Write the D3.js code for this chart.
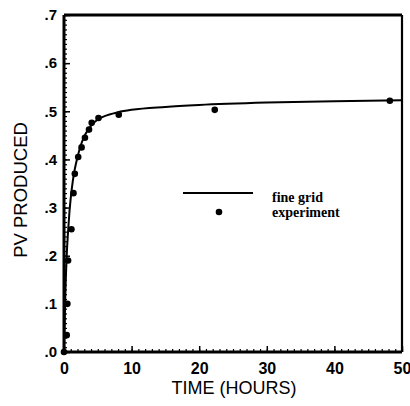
<!DOCTYPE html>
<html>
<head>
<meta charset="utf-8">
<script src="https://cdn.jsdelivr.net/npm/d3@7"></script>
<style>
  body { margin: 0; background: #fff; }
  svg { display: block; }
</style>
</head>
<body>
<svg id="chart"></svg>
<script>
// fine grid simulation curve
const curveTime = [0, 0.1, 0.2, 0.4, 0.6, 0.8, 1.0, 1.3, 1.6, 2, 2.5, 3, 3.5, 4, 5, 6, 8, 10, 15, 20, 30, 40, 50];
const curvePV   = [0, 0.06, 0.12, 0.2, 0.25, 0.29, 0.32, 0.355, 0.38, 0.405, 0.43, 0.448, 0.46, 0.47, 0.483, 0.49, 0.498, 0.503, 0.509, 0.513, 0.518, 0.521, 0.523];

// experiment points
const expTime = [0, 0.4, 0.5, 0.6, 1.1, 1.4, 1.6, 2.1, 2.6, 3.1, 3.7, 4.1, 5.1, 8.1, 22.3, 48.2];
const expPV   = [0, 0.035, 0.10, 0.19, 0.255, 0.33, 0.37, 0.405, 0.425, 0.445, 0.462, 0.476, 0.486, 0.493, 0.503, 0.522];

const xTicks = [0, 10, 20, 30, 40, 50];
const yTicks = [0, 0.1, 0.2, 0.3, 0.4, 0.5, 0.6, 0.7];
const yTickLabels = ['.0', '.1', '.2', '.3', '.4', '.5', '.6', '.7'];

const W = 410, H = 406;
const margin = { top: 15, right: 8, bottom: 54, left: 64 };
const width = W - margin.left - margin.right;
const height = H - margin.top - margin.bottom;

const svg = d3.select('#chart').attr('width', W).attr('height', H);
const g = svg.append('g').attr('transform', `translate(${margin.left},${margin.top})`);

const x = d3.scaleLinear().domain([0, 50]).range([0, width]);
const y = d3.scaleLinear().domain([0, 0.7]).range([height, 0]);

// minor ticks
g.append('g')
  .attr('transform', `translate(0,${height})`)
  .call(d3.axisBottom(x).tickValues(d3.range(0, 51, 1)).tickSize(-3).tickFormat(''))
  .call(a => a.select('.domain').remove())
  .selectAll('line').attr('stroke-width', 1.2);

g.append('g')
  .call(d3.axisLeft(y).tickValues(d3.range(0, 71, 1).map(d => d / 100)).tickSize(-3).tickFormat(''))
  .call(a => a.select('.domain').remove())
  .selectAll('line').attr('stroke-width', 1.2);

// major ticks and labels
const xAxis = g.append('g')
  .attr('transform', `translate(0,${height})`)
  .call(d3.axisBottom(x).tickValues(xTicks).tickSize(-6).tickPadding(11).tickFormat(d3.format('d')));
xAxis.select('.domain').remove();
xAxis.selectAll('line').attr('stroke-width', 1.5);
xAxis.selectAll('text')
  .style('font-family', 'Liberation Sans, Arial, sans-serif')
  .style('font-weight', 'bold')
  .style('font-size', '16px')
  .attr('fill', '#000');

const yAxis = g.append('g')
  .call(d3.axisLeft(y).tickValues(yTicks).tickSize(-6).tickPadding(7).tickFormat((d, i) => yTickLabels[i]));
yAxis.select('.domain').remove();
yAxis.selectAll('line').attr('stroke-width', 1.5);
yAxis.selectAll('text')
  .style('font-family', 'Liberation Sans, Arial, sans-serif')
  .style('font-weight', 'bold')
  .style('font-size', '15px')
  .attr('fill', '#000');

// frame
g.append('line').attr('x1', 0).attr('x2', 0).attr('y1', 0).attr('y2', height)
  .attr('stroke', '#000').attr('stroke-width', 3);
g.append('line').attr('x1', 0).attr('x2', width).attr('y1', height).attr('y2', height)
  .attr('stroke', '#000').attr('stroke-width', 3);
g.append('line').attr('x1', 0).attr('x2', width).attr('y1', 0).attr('y2', 0)
  .attr('stroke', '#000').attr('stroke-width', 3);
g.append('line').attr('x1', width).attr('x2', width).attr('y1', 0).attr('y2', height)
  .attr('stroke', '#000').attr('stroke-width', 2.2);

// curve
const curveData = curveTime.map((t, i) => ({ t, v: curvePV[i] }));
const line = d3.line()
  .x(d => x(d.t))
  .y(d => y(d.v))
  .curve(d3.curveMonotoneX);

g.append('path')
  .datum(curveData)
  .attr('fill', 'none')
  .attr('stroke', '#000')
  .attr('stroke-width', 2)
  .attr('d', line);

// experiment dots
const expData = expTime.map((t, i) => ({ t, v: expPV[i] }));
g.selectAll('.dot')
  .data(expData)
  .enter().append('circle')
  .attr('class', 'dot')
  .attr('cx', d => x(d.t))
  .attr('cy', d => y(d.v))
  .attr('r', 3.3)
  .attr('fill', '#000');

// legend
const legend = svg.append('g');
legend.append('line')
  .attr('x1', 183).attr('x2', 253).attr('y1', 193).attr('y2', 193)
  .attr('stroke', '#000').attr('stroke-width', 2);
legend.append('circle')
  .attr('cx', 219).attr('cy', 212).attr('r', 3.3).attr('fill', '#000');
legend.append('text')
  .attr('x', 272).attr('y', 202)
  .style('font-family', 'Liberation Serif, serif')
  .style('font-weight', 'bold')
  .style('font-size', '14px')
  .text('fine grid');
legend.append('text')
  .attr('x', 272).attr('y', 217)
  .style('font-family', 'Liberation Serif, serif')
  .style('font-weight', 'bold')
  .style('font-size', '14px')
  .text('experiment');

// axis titles
svg.append('text')
  .attr('x', 234).attr('y', 394)
  .attr('text-anchor', 'middle')
  .style('font-family', 'Liberation Sans, Arial, sans-serif')
  .style('font-size', '18px')
  .text('TIME (HOURS)');

svg.append('text')
  .attr('transform', 'translate(27,190) rotate(-90)')
  .attr('text-anchor', 'middle')
  .style('font-family', 'Liberation Sans, Arial, sans-serif')
  .style('font-size', '18.5px')
  .text('PV PRODUCED');
</script>
</body>
</html>
